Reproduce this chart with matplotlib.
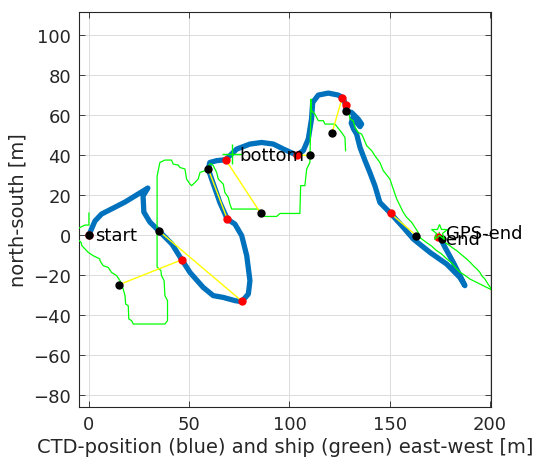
import numpy as np
import matplotlib.pyplot as plt

# CTD position (blue), east-west / north-south [m]
ctd_x = [0, 3, 6.3, 18, 29.4, 27, 27.4, 30.4, 35, 41.4, 46.4, 50.4, 57, 62, 67,
         72.8, 76.2, 79.5, 80.3, 78.7, 76.2, 72.8, 69, 65.3, 61.2, 59.5, 60.3,
         63.7, 68.2, 73.7, 80.3, 86.1, 92, 97, 103.6, 106.9, 109.4, 111, 111.6,
         114.4, 119.4, 124.3, 126.5, 128.2, 127.9, 131, 134.3, 136, 135.2, 133.5,
         131.5, 130.8, 132, 133.5, 135.2, 137.7, 140.1, 142.6, 145.1, 150.5,
         156.8, 161.8, 170.1, 178.4, 185, 187.5, 185.9, 181.7, 177.6, 175.9]
ctd_y = [0, 7, 10.5, 16.5, 23.5, 19.5, 11.5, 6.5, 2, -4.5, -12.5, -18.7, -26.2,
         -30.3, -31.2, -32.8, -33.3, -29.5, -22.8, -10.3, -0.3, 5.5, 8, 16.3, 28,
         33, 36.3, 37.2, 37.7, 43, 45.5, 46.3, 45.5, 43, 40, 42.2, 48, 58, 66.3,
         70, 71, 70, 68.8, 64.7, 62.2, 61.3, 58, 55.5, 54.2, 56.3, 58.5, 56, 53,
         50.5, 43.8, 37.2, 31.3, 24.7, 16.3, 10.8, 3.8, -2, -8.7, -14.5, -21.2,
         -25.3, -22, -13.7, -6.2, -2.8]

# ship GPS track (green), NaN separates the two pieces
ship_x = [0, 0, -2, -6, -6, -4, -3.5, -0.3, 2.1, 5.5, 5.5, 7.1, 9.6, 11.3, 13.8,
          15.5, 17.1, 18, 18.3, 19.6, 19.9, 21.3, 22.1, 37.9, 39.2, 39.2, 37.9,
          37.5, 36.2, 35.9, 34, 34, 35.4, 37.9, 41.2, 42, 44.5, 45.4, 47.9, 48.7,
          50.4, 51.2, 52.9, 54.5, 55.4, 57.9, 60.3, 61.2, 62, 63.7, 64.5, 67,
          67.8, 69.5, 70.3, 71.2, 84.4, 87.8, 93.6, 95.3, 105.2, 105.6, 107.7,
          108.6, 110.2, 110.8, 111, 112.7, 114.4, 116.9, 117.7, 122.7, 126,
          127.7, 128, np.nan,
          129.3, 130.2, 131.8, 132.7, 134.3, 136, 136.8, 138.5, 141, 142.6, 145.1,
          146.8, 148.5, 150.1, 151.8, 152.6, 153.5, 155.1, 156.8, 158.5, 161,
          162.6, 164.2, 165, 168, 170.9, 173, 175.9, 178, 180.9, 183, 185, 188,
          190, 193, 195, 198, 201, 203, 200.8, 199, 197.5, 196, 195, 193.5,
          191.7, 190, 188.4, 186, 183.4, 181.5, 180, 178, 175.9, 174.7]
ship_y = [11, 5, 5, 3, -2, -3.5, -5.3, -8.7, -10.3, -12, -12.8, -15.3, -16.2,
          -18.7, -20.3, -22.8, -27, -30.3, -34.5, -35.3, -42, -42.8, -44.5,
          -44.5, -42.8, -32.8, -30.3, -22.8, -20.3, -17.8, -16, 29.5, 36.3, 37.5,
          37.5, 35.5, 35, 33.8, 33, 28, 25.5, 24.7, 26.3, 28, 31.3, 32.2, 35.5,
          35.5, 34.7, 31.3, 28, 25.5, 21.3, 18.8, 15.5, 13, 13, 9.3, 9.3, 10.8,
          10.8, 24.7, 24.7, 33, 36.3, 68, 62.2, 60.5, 57.2, 57.2, 55.5, 55.5,
          51.3, 48.8, 42.2, np.nan,
          63.8, 58, 57.2, 53.8, 51.3, 50.5, 48.8, 44.7, 42.2, 39.7, 36.3, 32.2,
          30, 28, 23, 20.5, 18, 14.7, 11.3, 8.8, 6.3, 3.8, 1.3, -1.2, -3.5, -5.5,
          -7.5, -9.5, -11.5, -14, -16.5, -18.5, -20.5, -22, -23.5, -24.5, -26,
          -27.5, -28.5, -27, -24.5, -22, -20.5, -18.7, -17, -15.3, -13.5, -12,
          -10, -7.8, -6.5, -5.3, -4, -2.8, 1.3]

# matching CTD (red) and ship (black) positions
red_x = [0, 46.5, 76.2, 69, 68.2, 103.6, 126.3, 128.1, 150.5, 174.3]
red_y = [0, -12.3, -33, 8, 37.7, 40, 68.6, 64.8, 10.8, -1.2]
blk_x = [0, 15.1, 35, 59.5, 85.6, 110.2, 121.2, 128, 163.3, 175.9]
blk_y = [0, -24.8, 2, 33, 11, 39.8, 51, 62.2, -0.3, -2]

bottom_ship = (71.2, 40.5)
gps_end = (174.7, 1.3)

fig = plt.figure(figsize=(5.35, 4.64), dpi=100)
ax = fig.add_axes([0.1482, 0.1207, 0.7695, 0.8519])

ax.plot(ctd_x, ctd_y, color='#0072BD', lw=3.8, solid_capstyle='round', zorder=2)
ax.plot(ship_x, ship_y, color='#00ff00', lw=0.9, zorder=3)
for rx, ry, bx, by in zip(red_x, red_y, blk_x, blk_y):
    ax.plot([rx, bx], [ry, by], color='#ffff00', lw=1.0, zorder=4)
ax.plot(red_x, red_y, 'o', color='#ff0000', ms=5, zorder=5)
ax.plot(blk_x, blk_y, 'o', color='black', ms=5, zorder=6)
ax.plot(*bottom_ship, '+', color='#00ff00', ms=15, mew=1.0, zorder=6)
ax.plot(*gps_end, '*', mfc='none', mec='#00ff00', ms=12, mew=0.9, zorder=6)

ax.text(3, 0, 'start', fontsize=13, va='center', zorder=7)
ax.text(75, 40, 'bottom', fontsize=13, va='center', zorder=7)
ax.text(178.3, 1.0, 'GPS-end', fontsize=13, va='center', zorder=7)
ax.text(178.3, -1.8, 'end', fontsize=13, va='center', zorder=7)

ax.set_xlim(-4.8, 200.5)
ax.set_ylim(-86, 111.7)
ax.set_xticks(np.arange(0, 201, 50))
ax.set_yticks(np.arange(-80, 101, 20))
ax.grid(True, color='#dcdcdc', lw=0.7)
ax.set_axisbelow(True)
ax.tick_params(direction='in', top=True, right=True, length=4, width=0.6,
               colors='#262626', labelsize=13, pad=6)
for s in ax.spines.values():
    s.set_color('#262626')
    s.set_linewidth(0.8)
ax.set_xlabel('CTD-position (blue) and ship (green) east-west [m]',
              fontsize=14, color='#262626', labelpad=3)
ax.set_ylabel('north-south [m]', fontsize=14, color='#262626', labelpad=4)

fig.savefig('out.png', dpi=100)
